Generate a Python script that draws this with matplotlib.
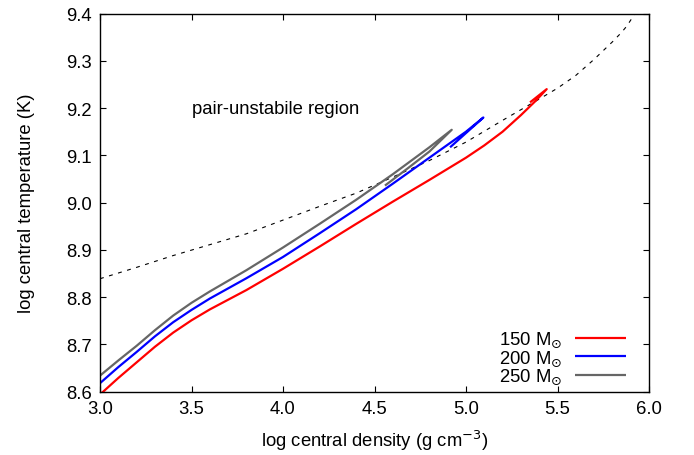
import numpy as np
import matplotlib
matplotlib.use("Agg")
import matplotlib.pyplot as plt

plt.rcParams['font.family'] = ['Liberation Sans', 'DejaVu Sans']
plt.rcParams['mathtext.fontset'] = 'dejavusans'

# boundary of pair-unstable region (dashed)
bound_rho = [3.0, 3.2, 3.4, 3.6, 3.8, 4.0, 4.2, 4.4, 4.6, 4.8, 5.0, 5.2, 5.4, 5.5, 5.6, 5.7, 5.8, 5.85, 5.88, 5.915, 5.93]
bound_T = [8.839, 8.863, 8.888, 8.911, 8.934, 8.963, 8.992, 9.020, 9.054, 9.089, 9.128, 9.174, 9.219, 9.242, 9.269, 9.303, 9.340, 9.360, 9.374, 9.395, 9.402]

# 150 Msun track
m150_rho = [2.98, 3.1, 3.2, 3.3, 3.4, 3.5, 3.6, 3.8, 4.0, 4.2, 4.4, 4.6, 4.8, 5.0, 5.1, 5.2, 5.3, 5.38, 5.441, 5.35]
m150_T = [8.587, 8.629, 8.662, 8.695, 8.725, 8.751, 8.774, 8.815, 8.860, 8.907, 8.955, 9.002, 9.048, 9.095, 9.121, 9.150, 9.185, 9.215, 9.240, 9.212]

# 200 Msun track
m200_rho = [3.0, 3.1, 3.2, 3.3, 3.4, 3.5, 3.6, 3.8, 4.0, 4.2, 4.4, 4.6, 4.8, 5.0, 5.095, 4.913]
m200_T = [8.618, 8.652, 8.684, 8.717, 8.747, 8.773, 8.797, 8.840, 8.885, 8.935, 8.986, 9.040, 9.095, 9.150, 9.180, 9.117]

# 250 Msun track
m250_rho = [3.0, 3.1, 3.2, 3.3, 3.4, 3.5, 3.6, 3.8, 4.0, 4.2, 4.4, 4.6, 4.8, 4.922, 4.80, 4.68, 4.557]
m250_T = [8.634, 8.666, 8.697, 8.730, 8.761, 8.788, 8.812, 8.857, 8.905, 8.955, 9.006, 9.060, 9.117, 9.154, 9.108, 9.072, 9.036]

labels = [r'150 M$_{\odot}$', r'200 M$_{\odot}$', r'250 M$_{\odot}$']
colors = ['#ff0000', '#0000ff', '#666666']

xticks = [3.0, 3.5, 4.0, 4.5, 5.0, 5.5, 6.0]
yticks = [8.6, 8.7, 8.8, 8.9, 9.0, 9.1, 9.2, 9.3, 9.4]

fs = 13.3

fig = plt.figure(figsize=(6.94, 4.56), dpi=100)
ax = fig.add_axes([100/694, 1-392.7/456, 549/694, 378.2/456])

ax.plot(bound_rho, bound_T, color='black', lw=0.8, dashes=(3.5, 5))
for xs, ys, c, lab in zip([m150_rho, m200_rho, m250_rho], [m150_T, m200_T, m250_T], colors, labels):
    ax.plot(xs, ys, color=c, lw=1.6, label=lab, solid_joinstyle='round', solid_capstyle='butt')

ax.set_xlim(3.0, 6.0)
ax.set_ylim(8.6, 9.4)
ax.set_xticks(xticks)
ax.set_xticklabels([f'{v:.1f}' for v in xticks])
ax.set_yticks(yticks)
ax.set_yticklabels([f'{v:.1f}' for v in yticks])
ax.tick_params(direction='in', length=4.5, width=0.8, top=True, right=True, labelsize=fs, pad=6)
for s in ax.spines.values():
    s.set_linewidth(1.0)

ax.set_xlabel(r'log central density (g cm$^{-3}$)', fontsize=fs, labelpad=8)
ax.set_ylabel('log central temperature (K)', fontsize=fs, labelpad=22)

ax.text(3.503, 9.198, 'pair-unstabile region', fontsize=fs, ha='left', va='center')

leg = ax.legend(loc='lower right', bbox_to_anchor=(0.968, 0.0), frameon=False, markerfirst=False,
                fontsize=fs, handlelength=2.75, handletextpad=0.7, labelspacing=-0.05,
                borderaxespad=0.0, borderpad=0.3)

fig.savefig('out.png', dpi=100)
